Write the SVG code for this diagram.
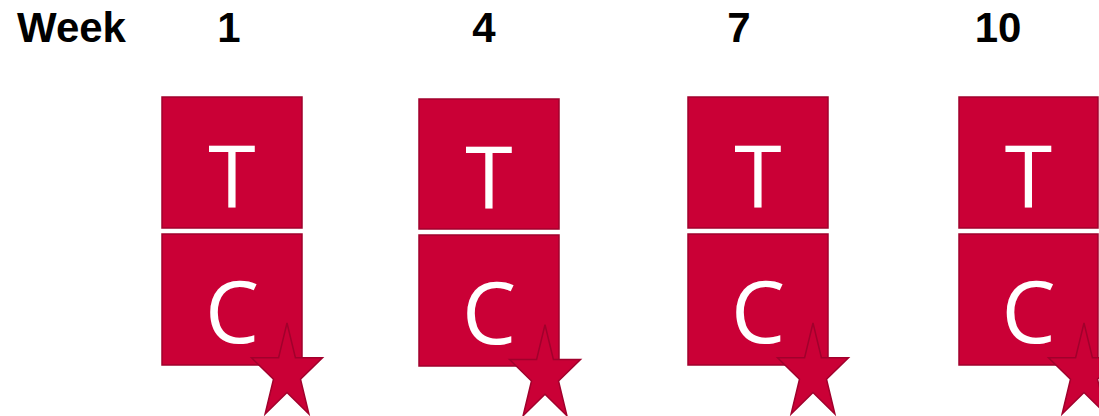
<svg xmlns="http://www.w3.org/2000/svg" width="1099" height="416" viewBox="0 0 1099 416">
<style>
.hdr{font-family:"Liberation Sans",Arial,sans-serif;font-weight:bold;font-size:42px;fill:#000}
.box{fill:#CA0036;stroke:#A1002C;stroke-width:1.5}
.lbl{font-family:"Open Sans","Liberation Sans",sans-serif;font-size:86px;fill:#fff;text-anchor:middle}
.star{fill:#CA0036;stroke:#A1002C;stroke-width:1.5;stroke-linejoin:miter}
</style>
<defs>
<polygon id="star" points="0,-50.3 8.4,-15.5 35.5,-15.5 13.5,5.9 21.9,40.7 0,19.2 -21.9,40.7 -13.5,5.9 -35.5,-15.5 -8.4,-15.5"/>
</defs>
<g id="header">
<text class="hdr" x="17" y="42">Week</text>
<text class="hdr" x="229" y="42" text-anchor="middle">1</text>
<text class="hdr" x="484" y="42" text-anchor="middle">4</text>
<text class="hdr" x="739" y="42" text-anchor="middle">7</text>
<text class="hdr" x="998" y="42" text-anchor="middle">10</text>
</g>
<g id="week1">
<rect class="box" x="162" y="97" width="140" height="131"/>
<text class="lbl" x="232" y="207">T</text>
<rect class="box" x="162" y="234" width="140" height="131"/>
<text class="lbl" x="232" y="343">C</text>
<use href="#star" class="star" transform="translate(287,373.3)"/>
</g>
<g id="week4">
<rect class="box" x="419" y="99" width="140" height="130"/>
<text class="lbl" x="489" y="208">T</text>
<rect class="box" x="419" y="235" width="140" height="131"/>
<text class="lbl" x="489" y="344">C</text>
<use href="#star" class="star" transform="translate(545,375)"/>
</g>
<g id="week7">
<rect class="box" x="688" y="97" width="140" height="131"/>
<text class="lbl" x="758" y="207">T</text>
<rect class="box" x="688" y="234" width="140" height="131"/>
<text class="lbl" x="758" y="343">C</text>
<use href="#star" class="star" transform="translate(813,373.3)"/>
</g>
<g id="week10">
<rect class="box" x="959" y="97" width="139" height="131"/>
<text class="lbl" x="1028.5" y="207">T</text>
<rect class="box" x="959" y="234" width="139" height="131"/>
<text class="lbl" x="1028.5" y="343">C</text>
<use href="#star" class="star" transform="translate(1084,373.3)"/>
</g>
<g id="connectors"/>
</svg>
